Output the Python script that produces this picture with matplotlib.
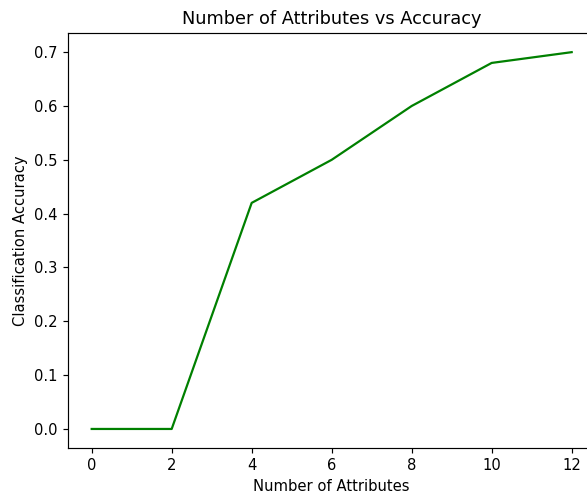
import matplotlib
matplotlib.use('Agg')
import matplotlib.pyplot as plt

num_attributes = [0, 2, 4, 6, 8, 10, 12]
accuracy = [0.0, 0.0, 0.42, 0.50, 0.60, 0.68, 0.70]

DPI = 106.5
fig = plt.figure(figsize=(587 / DPI, 498 / DPI), dpi=DPI)
# axes run slightly past the right edge, as in the cropped original
ax = fig.add_axes([0.1153, 0.1008, 0.8995, 0.8323])
ax.plot(num_attributes, accuracy, color='green')
ax.set_title('Number of Attributes vs Accuracy')
ax.set_xlabel('Number of Attributes')
ax.set_ylabel('Classification Accuracy')

fig.savefig('out.png', dpi=DPI)
